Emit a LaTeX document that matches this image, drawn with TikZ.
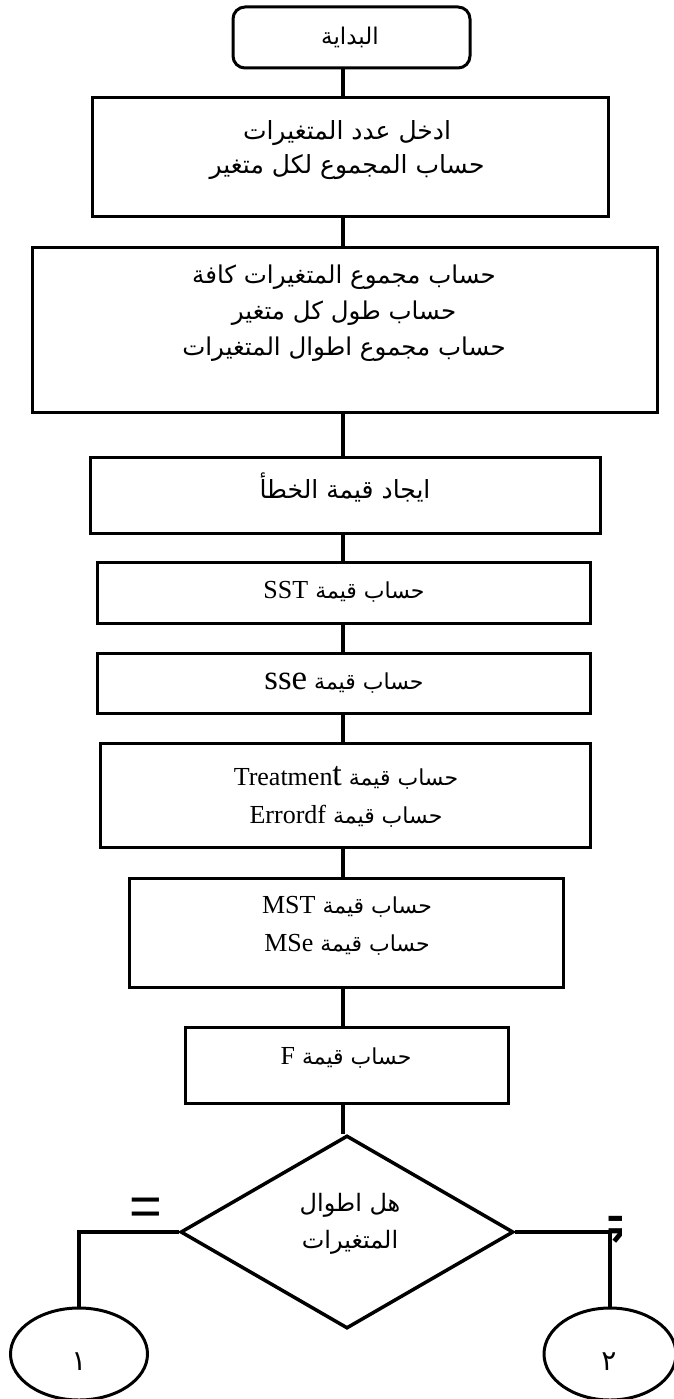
\documentclass[tikz,border=0pt]{standalone}
\usepackage{fontspec}
\setmainfont{Liberation Serif}
\newfontfamily\arabicfont[Script=Arabic]{DejaVu Sans}
\newfontfamily\symfont{DejaVu Sans}
\newfontfamily\lsans{Liberation Sans}
\TeXXeTstate=1
\usetikzlibrary{shapes.geometric}
\newcommand\AR[1]{\beginR #1\endR}
\newcommand\LT[1]{\beginL{\rmfamily\fontsize{26}{30}\selectfont #1}\endL}
\begin{document}
\begin{tikzpicture}[x=1pt,y=-1pt,
  box/.style={draw, line width=3pt, inner sep=0pt},
  rbox/.style={box, rounded corners=12pt},
  conn/.style={line width=3.5pt},
  atxt/.style={font=\arabicfont\fontsize{25}{34}\selectfont, align=center, inner sep=0pt},
  ttxt/.style={font=\arabicfont\fontsize{22}{38}\selectfont, align=center, inner sep=0pt},
  dnode/.style={draw, diamond, line width=3.5pt, inner sep=0pt},
  enode/.style={draw, ellipse, line width=3pt, inner sep=0pt}]
\useasboundingbox (0,0) rectangle (674,1399);
\coordinate (ax) at (343,0);
% boxes
\node[rbox, minimum width=237, minimum height=61] (start) at (351.5,37.5) {};
\node[atxt, font=\arabicfont\fontsize{23}{30}\selectfont] (tstart) at (350,37) {\AR{البداية}};
\node[box, minimum width=516, minimum height=118] (b1) at (350,157) {};
\node[atxt] (t1) at (347,150) {\AR{ادخل عدد المتغيرات}\\\AR{حساب المجموع لكل متغير}};
\node[box, minimum width=625, minimum height=165] (b2) at (344.5,329.5) {};
\node[atxt, font=\arabicfont\fontsize{24.5}{36}\selectfont] (t2) at (344,313) {\AR{حساب مجموع المتغيرات كافة}\\\AR{حساب طول كل متغير}\\\AR{حساب مجموع اطوال المتغيرات}};
\node[box, minimum width=510, minimum height=76] (b3) at (345,495) {};
\node[atxt] (t3) at (345,487) {\AR{ايجاد قيمة الخطأ}};
\node[box, minimum width=493, minimum height=61] (b4) at (343.5,592.5) {};
\node[ttxt] (t4) at (344,592) {\AR{حساب قيمة \LT{SST}}};
\node[box, minimum width=493, minimum height=60] (b5) at (343.5,683) {};
\node[ttxt] (t5) at (344,683) {\AR{حساب قيمة \LT{\fontsize{35}{30}\selectfont sse}}};
\node[box, minimum width=490, minimum height=104] (b6) at (345,795) {};
\node[ttxt] (t6) at (346,797) {\AR{حساب قيمة \LT{Treatmen{\fontsize{34}{30}\selectfont t}}}\\\AR{حساب قيمة \LT{Errordf}}};
\node[box, minimum width=434, minimum height=109] (b7) at (346,932.5) {};
\node[ttxt] (t7) at (347,926) {\AR{حساب قيمة \LT{MST}}\\\AR{حساب قيمة \LT{MSe}}};
\node[box, minimum width=323, minimum height=76] (b8) at (346.5,1065) {};
\node[ttxt] (t8) at (346,1058) {\AR{حساب قيمة \LT{F}}};
% decision
\node[dnode, minimum width=333, minimum height=193] (dec) at (347,1232) {};
\node[atxt, font=\arabicfont\fontsize{24}{37}\selectfont] (tdec) at (350,1224) {\AR{هل اطوال}\\\AR{المتغيرات}};
% connectors
\draw[conn] (start.south -| ax) -- (b1.north -| ax);
\draw[conn] (b1.south -| ax) -- (b2.north -| ax);
\draw[conn] (b2.south -| ax) -- (b3.north -| ax);
\draw[conn] (b3.south -| ax) -- (b4.north -| ax);
\draw[conn] (b4.south -| ax) -- (b5.north -| ax);
\draw[conn] (b5.south -| ax) -- (b6.north -| ax);
\draw[conn] (b6.south -| ax) -- (b7.north -| ax);
\draw[conn] (b7.south -| ax) -- (b8.north -| ax);
\draw[conn] (b8.south -| ax) -- (dec.north -| ax);
% connectors to circles
\node[enode, minimum width=137, minimum height=92] (c1) at (79,1354) {};
\node[enode, minimum width=132, minimum height=92] (c2) at (610,1354) {};
\node[atxt, font=\arabicfont\fontsize{28}{30}\selectfont] (tc1) at (79,1362) {\AR{١}};
\node[atxt, font=\arabicfont\fontsize{28}{30}\selectfont] (tc2) at (609,1362) {\AR{٢}};
\draw[conn] (dec.west) -| (c1.north);
\draw[conn] (dec.east) -| (c2.north);
\node[inner sep=0pt, font=\lsans\fontsize{56}{56}\selectfont] (eq) at (146,1212) {=};
\begin{scope}
\clip (600,1211) rectangle (621,1250);
\node[inner sep=0pt, font=\symfont\fontsize{62}{62}\selectfont, anchor=west] (neq) at (602,1226) {≠};
\end{scope}
\end{tikzpicture}
\end{document}
